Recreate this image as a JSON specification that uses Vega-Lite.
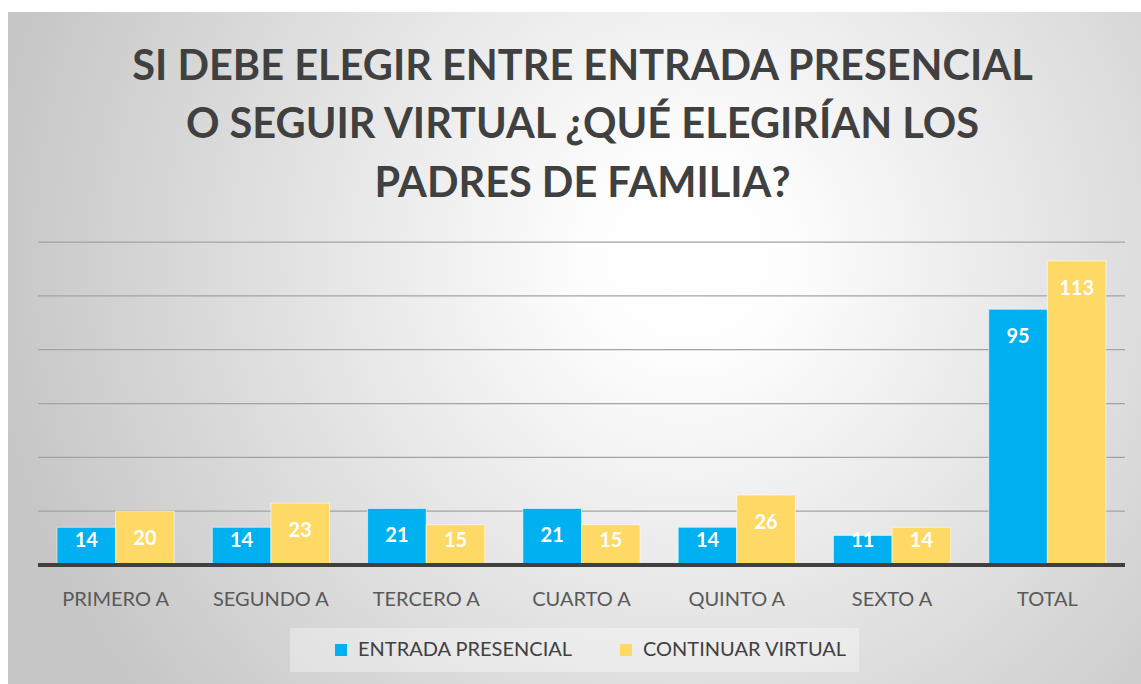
{
  "$schema": "https://vega.github.io/schema/vega-lite/v6.json",
  "width": 1133,
  "height": 672,
  "autosize": {"type": "none"},
  "padding": {"left": 8, "top": 12, "right": 0, "bottom": 0},
  "background": "#ffffff",
  "config": {"view": {"stroke": "#bdbdbd", "strokeWidth": 1}, "font": "Lato"},
  "title": {
    "text": ["SI DEBE ELEGIR ENTRE ENTRADA PRESENCIAL", "O SEGUIR VIRTUAL ¿QUÉ ELEGIRÍAN LOS", "PADRES DE FAMILIA?"],
    "anchor": "middle",
    "frame": "group",
    "font": "Lato",
    "fontSize": 41.5,
    "fontWeight": "bold",
    "color": "#404040",
    "lineHeight": 58.5,
    "offset": -193,
    "dx": 8
  },
  "datasets": {
    "main": [
      {"grado": "PRIMERO A", "serie": "ENTRADA PRESENCIAL", "valor": 14},
      {"grado": "PRIMERO A", "serie": "CONTINUAR VIRTUAL", "valor": 20},
      {"grado": "SEGUNDO A", "serie": "ENTRADA PRESENCIAL", "valor": 14},
      {"grado": "SEGUNDO A", "serie": "CONTINUAR VIRTUAL", "valor": 23},
      {"grado": "TERCERO A", "serie": "ENTRADA PRESENCIAL", "valor": 21},
      {"grado": "TERCERO A", "serie": "CONTINUAR VIRTUAL", "valor": 15},
      {"grado": "CUARTO A", "serie": "ENTRADA PRESENCIAL", "valor": 21},
      {"grado": "CUARTO A", "serie": "CONTINUAR VIRTUAL", "valor": 15},
      {"grado": "QUINTO A", "serie": "ENTRADA PRESENCIAL", "valor": 14},
      {"grado": "QUINTO A", "serie": "CONTINUAR VIRTUAL", "valor": 26},
      {"grado": "SEXTO A", "serie": "ENTRADA PRESENCIAL", "valor": 11},
      {"grado": "SEXTO A", "serie": "CONTINUAR VIRTUAL", "valor": 14},
      {"grado": "TOTAL", "serie": "ENTRADA PRESENCIAL", "valor": 95},
      {"grado": "TOTAL", "serie": "CONTINUAR VIRTUAL", "valor": 113}
    ],
    "grid": [{"g": 20}, {"g": 40}, {"g": 60}, {"g": 80}, {"g": 100}, {"g": 120}]
  },
  "layer": [
    {
      "data": {"values": [{}]},
      "mark": {
        "type": "rect",
        "color": {
          "gradient": "radial",
          "x1": 0.6, "y1": 0.42, "r1": 0,
          "x2": 0.6, "y2": 0.42, "r2": 0.62,
          "stops": [
            {"offset": 0, "color": "#ffffff"},
            {"offset": 0.15, "color": "#fdfdfd"},
            {"offset": 1, "color": "#c6c6c6"}
          ]
        }
      },
      "encoding": {}
    },
    {
      "data": {"name": "grid"},
      "mark": {"type": "rule", "color": "#a3a3a3", "strokeWidth": 1.25},
      "encoding": {
        "y": {"field": "g", "type": "quantitative", "scale": {"domain": [-44.21, 205.45], "nice": false, "zero": false}, "axis": null},
        "x": {
          "datum": "PRIMERO A", "type": "nominal", "bandPosition": 0,
          "axis": {"title": null, "orient": "bottom", "offset": -119, "domain": false, "ticks": false, "labelPadding": 24, "labelFont": "Lato", "labelFontSize": 20, "labelColor": "#595959", "labelAngle": 0, "grid": false, "zindex": 1}
        },
        "x2": {"datum": "TOTAL", "bandPosition": 1}
      }
    },
    {
      "data": {"name": "main"},
      "mark": {"type": "bar", "stroke": "#ffffff", "strokeOpacity": 0.55, "strokeWidth": 1},
      "encoding": {
        "x": {
          "field": "grado",
          "type": "nominal",
          "scale": {
            "type": "band",
            "domain": ["PRIMERO A", "SEGUNDO A", "TERCERO A", "CUARTO A", "QUINTO A", "SEXTO A", "TOTAL"],
            "paddingInner": 0,
            "paddingOuter": 0.148,
            "align": 0.652
          },
          "axis": {"title": null, "orient": "bottom", "offset": -119, "domain": false, "ticks": false, "labelPadding": 24, "labelFont": "Lato", "labelFontSize": 20, "labelColor": "#595959", "labelAngle": 0, "grid": false, "zindex": 1}
        },
        "xOffset": {
          "field": "serie",
          "type": "nominal",
          "scale": {"domain": ["ENTRADA PRESENCIAL", "CONTINUAR VIRTUAL"], "paddingInner": 0, "paddingOuter": 0.3248}
        },
        "y": {"field": "valor", "type": "quantitative", "scale": {"domain": [-44.21, 205.45], "nice": false, "zero": false}, "axis": null},
        "y2": {"datum": 0},
        "color": {
          "field": "serie",
          "type": "nominal",
          "scale": {"domain": ["ENTRADA PRESENCIAL", "CONTINUAR VIRTUAL"], "range": ["#00B0F0", "#FFD966"]},
          "legend": {
            "title": null,
            "orient": "none",
            "legendX": 282,
            "legendY": 616,
            "direction": "horizontal",
            "symbolType": "square",
            "symbolSize": 144,
            "symbolStrokeWidth": 0,
            "labelFont": "Lato",
            "labelFontSize": 20,
            "labelColor": "#404040",
            "labelOffset": 7,
            "labelLimit": 400,
            "columnPadding": 14,
            "padding": 12,
            "symbolOffset": 29,
            "fillColor": "rgba(255,255,255,0.35)"
          }
        }
      }
    },
    {
      "data": {"values": [{"b": 0}]},
      "mark": {"type": "rule", "color": "#404040", "strokeWidth": 4},
      "encoding": {
        "y": {"field": "b", "type": "quantitative", "scale": {"domain": [-44.21, 205.45], "nice": false, "zero": false}, "axis": null},
        "x": {
          "datum": "PRIMERO A", "type": "nominal", "bandPosition": 0,
          "axis": {"title": null, "orient": "bottom", "offset": -119, "domain": false, "ticks": false, "labelPadding": 24, "labelFont": "Lato", "labelFontSize": 20, "labelColor": "#595959", "labelAngle": 0, "grid": false, "zindex": 1}
        },
        "x2": {"datum": "TOTAL", "bandPosition": 1}
      }
    },
    {
      "data": {"name": "main"},
      "transform": [{"calculate": "max(datum.valor, 19.5)", "as": "ly"}],
      "mark": {"type": "text", "color": "#ffffff", "font": "Lato", "fontSize": 20, "fontWeight": "bold", "baseline": "middle", "dy": 28},
      "encoding": {
        "x": {
          "field": "grado", "type": "nominal",
          "axis": {"title": null, "orient": "bottom", "offset": -119, "domain": false, "ticks": false, "labelPadding": 24, "labelFont": "Lato", "labelFontSize": 20, "labelColor": "#595959", "labelAngle": 0, "grid": false, "zindex": 1}
        },
        "xOffset": {"field": "serie", "type": "nominal"},
        "y": {"field": "ly", "type": "quantitative", "scale": {"domain": [-44.21, 205.45], "nice": false, "zero": false}, "axis": null},
        "text": {"field": "valor", "type": "quantitative"}
      }
    }
  ]
}
